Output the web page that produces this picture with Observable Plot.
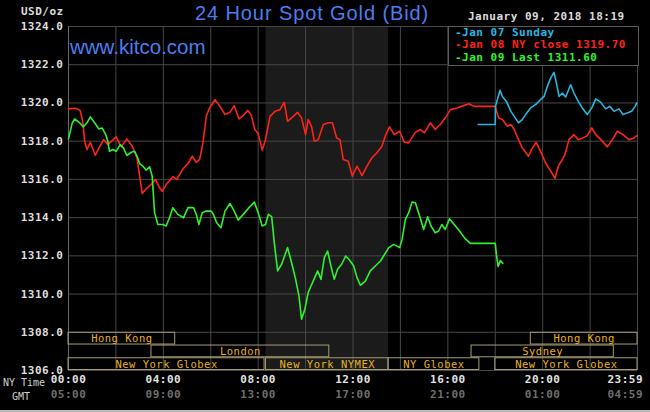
<!DOCTYPE html>
<html><head><meta charset="utf-8">
<script src="https://cdn.jsdelivr.net/npm/d3@7"></script>
<script src="https://cdn.jsdelivr.net/npm/@observablehq/plot@0.6"></script>
<style>
html,body{margin:0;padding:0;background:#000;}
#wrap{position:relative;width:650px;height:412px;overflow:hidden;background:#000;}
#wrap svg{display:block;border-bottom:2px solid #b8b8b8;}
.m{position:absolute;white-space:nowrap;font-family:"DejaVu Sans Mono",monospace;font-weight:bold;font-size:11px;letter-spacing:0.5px;line-height:12px;}
.s{position:absolute;white-space:nowrap;font-family:"Liberation Sans",Arial,sans-serif;color:#4a7ef0;}
#legend{position:absolute;left:448px;top:26px;width:189px;height:38px;border:1px solid #5a5a5a;background:#000;}
svg g[aria-label="y-axis tick label"] text, svg g[aria-label="text"] text{letter-spacing:0.5px;}
</style></head>
<body><div id="wrap"></div>
<script>
// ---- data ----
const yTicks = [1306,1308,1310,1312,1314,1316,1318,1320,1322,1324];
const nyHours = [0,4,8,12,16,20];
const nyLabels = ["00:00","04:00","08:00","12:00","16:00","20:00"];
const gmtLabels = ["05:00","09:00","13:00","17:00","21:00","01:00"];
const endHour = [23.983];
const endNy = ["23:59"];
const endGmt = ["04:59"];

const sessionName  = ["Hong Kong","London","New York Globex","New York NYMEX","NY Globex","New York Globex","Sydney","Hong Kong"];
const sessionStart = [0, 3.5, 0, 8.33, 13.5, 18, 17, 19.5];
const sessionEnd   = [4.5, 11, 8.27, 13.5, 17.33, 24, 23, 24];
const sessionRow   = [0, 1, 2, 2, 2, 2, 1, 0];
const nymexOpen = [8.33], nymexClose = [13.5];

const redT = [0.00,0.30,0.49,0.61,0.68,0.78,0.92,1.13,1.31,1.48,1.66,2.01,2.22,2.46,2.69,2.89,3.00,3.11,3.31,3.49,3.67,3.84,3.95,4.12,4.40,4.57,4.83,5.04,5.22,5.39,5.53,5.67,5.81,5.95,6.18,6.39,6.60,6.81,6.99,7.19,7.37,7.56,7.70,7.86,8.00,8.17,8.31,8.50,8.71,8.92,9.10,9.24,9.48,9.66,9.83,10.00,10.11,10.25,10.37,10.53,10.75,10.96,11.13,11.31,11.45,11.59,11.80,11.97,12.17,12.38,12.59,12.80,13.01,13.22,13.36,13.54,13.74,13.97,14.16,14.34,14.63,14.84,15.01,15.26,15.47,15.68,15.89,16.11,16.39,16.67,16.89,17.10,18.00,18.14,18.30,18.51,18.66,18.80,18.98,19.14,19.40,19.57,19.73,19.91,20.12,20.34,20.52,20.66,20.83,20.94,21.11,21.32,21.50,21.70,21.88,22.07,22.24,22.45,22.73,22.94,23.15,23.39,23.64,23.85,23.98];
const redV = [1319.69,1319.72,1319.61,1318.96,1318.00,1317.56,1317.94,1317.26,1317.70,1318.08,1317.82,1318.22,1317.70,1318.12,1317.73,1317.13,1316.17,1315.26,1315.56,1315.73,1316.00,1315.56,1315.38,1315.73,1316.14,1316.00,1316.55,1316.83,1317.21,1316.90,1317.04,1317.91,1319.30,1319.74,1320.17,1319.82,1319.39,1319.51,1319.86,1319.16,1319.34,1319.61,1319.39,1318.61,1318.40,1317.53,1318.08,1319.30,1319.56,1319.65,1320.03,1319.04,1319.30,1319.51,1319.22,1318.34,1319.13,1318.78,1317.99,1318.08,1318.87,1318.96,1318.96,1318.17,1318.08,1317.04,1316.95,1316.17,1316.69,1316.20,1316.69,1317.13,1317.39,1317.73,1318.26,1318.75,1318.34,1318.52,1317.94,1317.91,1318.46,1318.61,1318.43,1318.96,1318.61,1318.87,1319.22,1319.65,1319.74,1319.86,1319.96,1319.82,1319.82,1319.22,1319.13,1318.78,1318.87,1318.61,1318.08,1317.65,1317.21,1317.65,1317.94,1317.47,1316.87,1316.43,1316.05,1316.69,1317.04,1317.30,1318.08,1318.34,1318.08,1318.17,1318.29,1318.69,1318.34,1318.08,1317.70,1318.08,1318.52,1318.34,1318.08,1318.17,1318.29];

const greenT = [0.00,0.16,0.26,0.47,0.63,0.78,0.92,1.10,1.28,1.42,1.57,1.66,1.73,1.87,2.01,2.18,2.32,2.46,2.65,2.79,2.89,3.00,3.14,3.28,3.42,3.53,3.63,3.77,3.98,4.12,4.26,4.40,4.61,4.85,5.04,5.27,5.39,5.50,5.64,5.81,6.02,6.11,6.25,6.43,6.60,6.81,6.99,7.16,7.37,7.61,7.84,8.00,8.17,8.31,8.43,8.57,8.68,8.82,8.99,9.24,9.41,9.58,9.72,9.83,9.97,10.11,10.32,10.51,10.65,10.79,10.93,11.07,11.21,11.35,11.52,11.69,11.83,12.03,12.17,12.31,12.52,12.73,12.94,13.16,13.29,13.51,13.72,13.97,14.07,14.21,14.35,14.49,14.63,14.81,14.98,15.15,15.29,15.47,15.61,15.75,15.89,16.07,16.27,16.49,16.73,16.95,18.00,18.05,18.12,18.22,18.32];
const greenV = [1318.12,1318.96,1319.16,1318.96,1318.75,1318.96,1319.27,1318.96,1318.64,1318.69,1318.34,1317.99,1317.47,1317.56,1317.47,1317.82,1317.65,1317.25,1317.42,1317.47,1317.21,1316.83,1316.69,1316.48,1316.66,1316.17,1314.26,1313.64,1313.64,1313.56,1313.99,1314.52,1314.17,1313.99,1314.52,1314.52,1314.17,1313.64,1314.26,1314.34,1314.34,1314.17,1313.73,1313.47,1314.34,1314.74,1314.34,1313.87,1314.17,1314.52,1314.81,1314.26,1313.56,1313.64,1314.17,1314.05,1312.69,1311.21,1311.56,1312.43,1311.64,1310.77,1309.90,1308.68,1309.21,1310.08,1310.68,1311.21,1310.77,1311.91,1312.25,1311.47,1310.77,1311.30,1311.56,1311.99,1311.82,1311.47,1310.86,1310.46,1310.68,1311.21,1311.47,1311.73,1311.99,1312.43,1312.60,1312.43,1312.86,1313.91,1314.26,1314.81,1314.78,1314.08,1313.38,1314.05,1313.56,1313.21,1313.30,1313.64,1313.38,1313.94,1313.64,1313.30,1312.90,1312.65,1312.65,1312.05,1311.45,1311.75,1311.60];

const cyanT = [17.28,18.00,18.01,18.20,18.30,18.47,18.66,18.80,18.98,19.14,19.28,19.49,19.70,19.91,20.06,20.20,20.34,20.48,20.58,20.69,20.83,20.97,21.18,21.32,21.50,21.67,21.88,22.07,22.24,22.45,22.66,22.83,23.01,23.22,23.39,23.57,23.75,23.90,23.97];
const cyanV = [1318.87,1318.87,1319.82,1320.66,1320.34,1320.08,1319.56,1319.30,1318.96,1319.13,1319.39,1319.74,1319.91,1320.17,1320.34,1320.87,1321.31,1321.60,1321.04,1320.34,1320.52,1320.31,1320.95,1320.52,1320.08,1319.74,1319.39,1319.74,1320.21,1320.03,1319.69,1319.82,1319.56,1319.69,1319.39,1319.48,1319.56,1319.82,1320.00];

// ---- build ----
const MONO = "DejaVu Sans Mono, monospace";
const zip = (t, v) => t.map((h, i) => ({h, v: v[i]}));
const red = zip(redT, redV), green = zip(greenT, greenV), cyan = zip(cyanT, cyanV);
const rowTop = [1308, 1307.333, 1306.667];
const sessions = sessionName.map((n, i) => ({
  name: n, start: sessionStart[i], end: sessionEnd[i],
  y1: rowTop[sessionRow[i]], y2: rowTop[sessionRow[i]] - 0.667
}));
const nyTicks = nyHours.map((h, i) => ({h, ny: nyLabels[i], gmt: gmtLabels[i]}));
const endTicks = endHour.map((h, i) => ({h, ny: endNy[i], gmt: endGmt[i]}));
const gridX = d3.range(0, 25, 2);

const chart = Plot.plot({
  width: 650, height: 410,
  marginTop: 26, marginBottom: 40, marginLeft: 68, marginRight: 13,
  x: {domain: [0, 24], axis: null},
  y: {domain: [1306, 1324], axis: null},
  style: {background: "#000", color: "#ddd", overflow: "visible"},
  marks: [
    Plot.rectX(nymexOpen.map((a, i) => ({a, b: nymexClose[i]})), {x1: "a", x2: "b", y1: 1306, y2: 1324, fill: "#1b1b1b"}),
    Plot.ruleY(yTicks, {stroke: "#474747"}),
    Plot.ruleX(gridX, {stroke: "#474747"}),
    Plot.ruleX([0], {stroke: "#6a6a6a"}),
    Plot.rect(sessions, {x1: "start", x2: "end", y1: "y1", y2: "y2", stroke: "#a59c72", fill: "none", insetTop: 0.5, insetBottom: 0.5}),
    Plot.text(sessions, {x: d => (d.start + d.end) / 2, y: d => (d.y1 + d.y2) / 2, text: "name", fill: "#e8b21e", fontFamily: MONO, fontSize: 10.5}),
    Plot.line(red, {x: "h", y: "v", stroke: "#ff2418", strokeWidth: 1.6}),
    Plot.line(green, {x: "h", y: "v", stroke: "#2ef22e", strokeWidth: 1.6}),
    Plot.line(cyan, {x: "h", y: "v", stroke: "#27b8e2", strokeWidth: 1.6}),
    Plot.axisY(yTicks, {tickFormat: d => d.toFixed(1), tickSize: 0, tickPadding: 5, fontFamily: MONO, fontWeight: "bold", fontSize: 11, fill: "#dedede", label: null}),
    Plot.text(nyTicks, {x: "h", text: "ny", frameAnchor: "bottom", dy: 12, fontFamily: MONO, fontWeight: "bold", fontSize: 11, fill: "#e2e2e2"}),
    Plot.text(nyTicks, {x: "h", text: "gmt", frameAnchor: "bottom", dy: 27, fontFamily: MONO, fontWeight: "bold", fontSize: 11, fill: "#6e6e6e"}),
    Plot.text(endTicks, {x: "h", text: "ny", frameAnchor: "bottom", dy: 12, dx: 6, textAnchor: "end", fontFamily: MONO, fontWeight: "bold", fontSize: 11, fill: "#e2e2e2"}),
    Plot.text(endTicks, {x: "h", text: "gmt", frameAnchor: "bottom", dy: 27, dx: 6, textAnchor: "end", fontFamily: MONO, fontWeight: "bold", fontSize: 11, fill: "#6e6e6e"})
  ]
});
const wrap = document.getElementById("wrap");
wrap.appendChild(chart);

function addDiv(cls, text, css) {
  const d = document.createElement("div");
  d.className = cls; d.textContent = text;
  Object.assign(d.style, css);
  wrap.appendChild(d);
  return d;
}
addDiv("s", "24 Hour Spot Gold (Bid)", {left: "195px", top: "2px", fontSize: "20px", lineHeight: "22px", letterSpacing: "0.9px"});
addDiv("s", "www.kitco.com", {left: "70px", top: "36px", fontSize: "20.5px", lineHeight: "22px"});
addDiv("m", "USD/oz", {left: "21px", top: "6px", color: "#dcdcdc"});
addDiv("m", "January 09, 2018 18:19", {left: "468px", top: "11px", color: "#dcdcdc"});
addDiv("m", "NY Time", {left: "3px", top: "377px", color: "#cfcfcf", fontWeight: "normal", fontSize: "10px", letterSpacing: "0"});
addDiv("m", "GMT", {left: "12px", top: "391px", color: "#cfcfcf", fontWeight: "normal", fontSize: "10px", letterSpacing: "0"});
const lg = document.createElement("div"); lg.id = "legend"; wrap.appendChild(lg);
addDiv("m", "-Jan 07 Sunday", {left: "455px", top: "27px", color: "#27b8e2"});
addDiv("m", "-Jan 08 NY close 1319.70", {left: "455px", top: "39px", color: "#ff2418"});
addDiv("m", "-Jan 09 Last 1311.60", {left: "455px", top: "52px", color: "#2ef22e"});
</script>
</body></html>
